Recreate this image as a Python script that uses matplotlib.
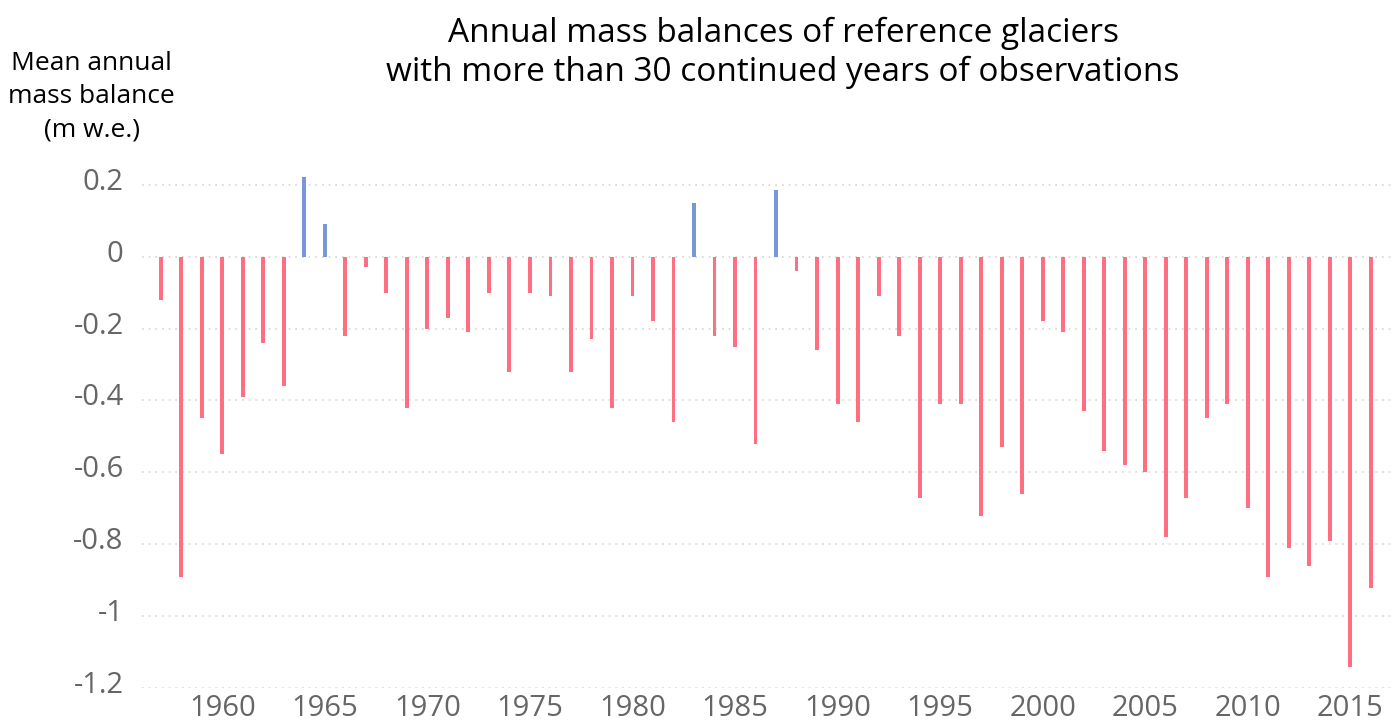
import numpy as np
import matplotlib
matplotlib.use("Agg")
import matplotlib.pyplot as plt
import matplotlib.transforms as mtransforms

years = list(range(1957, 2017))
balance = [
    -0.12, -0.89, -0.45, -0.55, -0.39, -0.24, -0.36, 0.22, 0.09, -0.22,
    -0.03, -0.10, -0.42, -0.20, -0.17, -0.21, -0.10, -0.32, -0.10, -0.11,
    -0.32, -0.23, -0.42, -0.11, -0.18, -0.46, 0.15, -0.22, -0.25, -0.52,
    0.185, -0.04, -0.26, -0.41, -0.46, -0.11, -0.22, -0.67, -0.41, -0.41,
    -0.72, -0.53, -0.66, -0.18, -0.21, -0.43, -0.54, -0.58, -0.60, -0.78,
    -0.67, -0.45, -0.41, -0.70, -0.89, -0.81, -0.86, -0.79, -1.14, -0.92,
]
yticks = [0.2, 0, -0.2, -0.4, -0.6, -0.8, -1, -1.2]
ytick_labels = ["0.2", "0", "-0.2", "-0.4", "-0.6", "-0.8", "-1", "-1.2"]
xticks = [1960, 1965, 1970, 1975, 1980, 1985, 1990, 1995, 2000, 2005, 2010, 2015]

plt.rcParams['font.family'] = ['Open Sans', 'DejaVu Sans']

fig = plt.figure(figsize=(13.91, 7.22), dpi=100)
ax = fig.add_axes([0.1019, 0.0467, 0.898, 0.7175])

colors = ["#7A96DA" if v > 0 else "#FF6E82" for v in balance]
ax.bar(years, balance, width=0.19, color=colors, zorder=3)

ax.set_xlim(1956.07, 2016.98)
ax.set_ylim(-1.2, 0.24)
ax.set_yticks(yticks)
ax.set_yticklabels(ytick_labels)
ax.set_xticks(xticks)
ax.grid(axis='y', linestyle=(0, (1, 3)), color='#d5d5d5', linewidth=1.2, zorder=0)
for s in ax.spines.values():
    s.set_visible(False)
ax.tick_params(axis='both', length=0, labelsize=21, labelcolor='#666666')
ax.tick_params(axis='y', pad=13)
ax.tick_params(axis='x', pad=4)

off = mtransforms.ScaledTranslation(0, 6 / 100, fig.dpi_scale_trans)
for lab in ax.get_yticklabels():
    lab.set_transform(lab.get_transform() + off)

fig.text(0.563, 0.927, "Annual mass balances of reference glaciers\nwith more than 30 continued years of observations",
         ha='center', va='center', fontsize=24, color='black', linespacing=1.22)
fig.text(0.066, 0.866, "Mean annual\nmass balance\n(m w.e.)",
         ha='center', va='center', fontsize=19, color='black', linespacing=1.45)

fig.savefig("out.png", dpi=100)
